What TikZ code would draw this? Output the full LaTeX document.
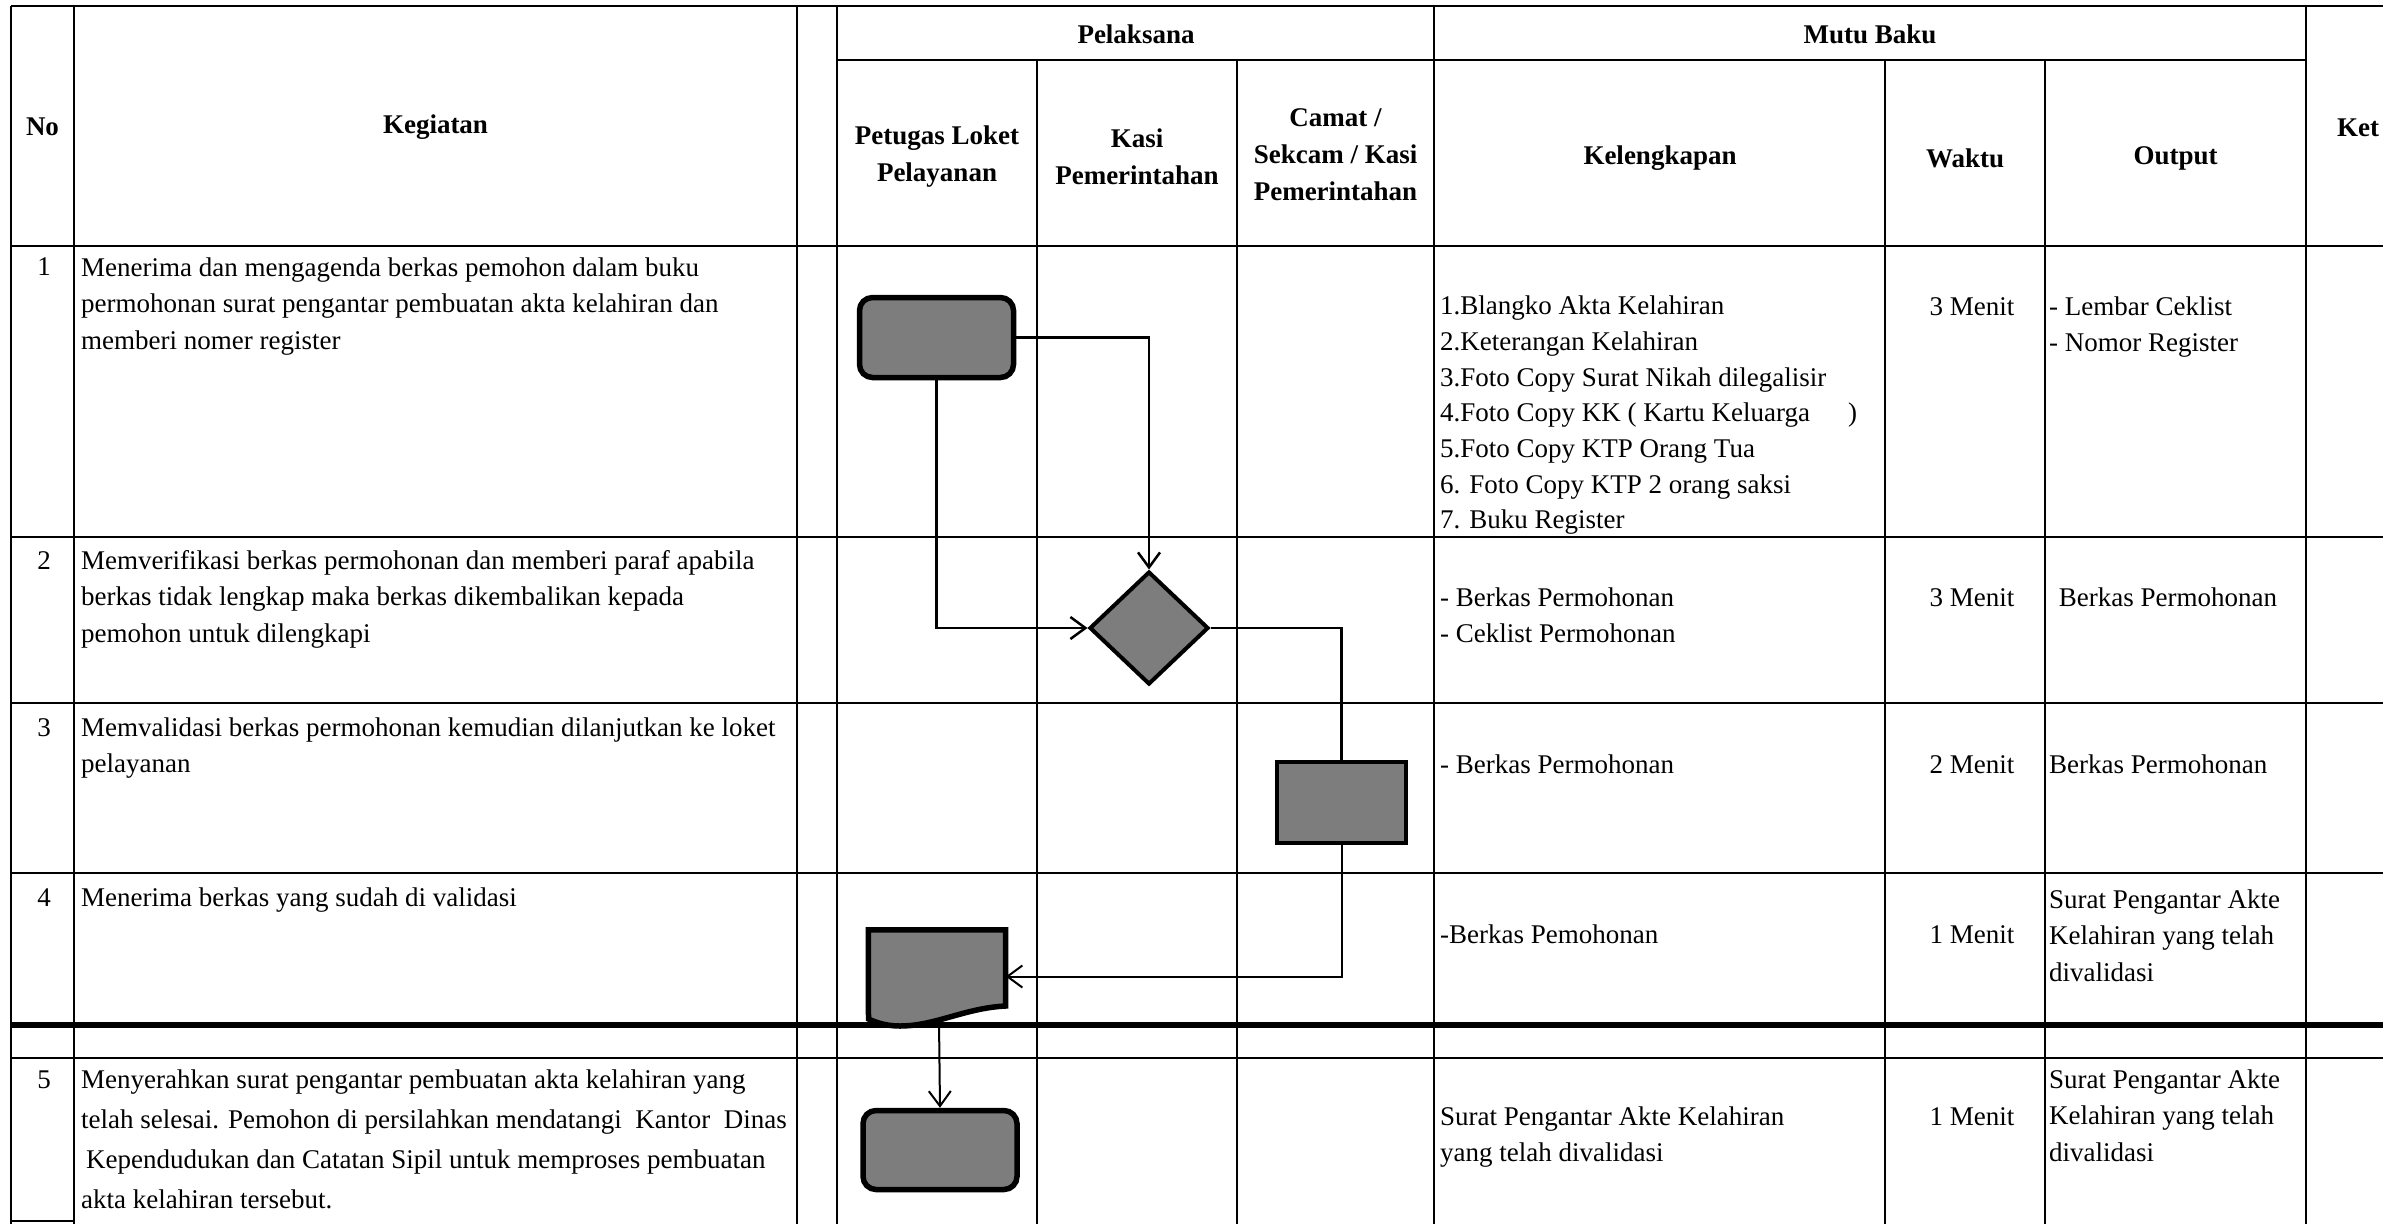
\documentclass[tikz,border=0pt]{standalone}
\usepackage{fontspec}
\setmainfont{Liberation Serif}
\usetikzlibrary{arrows.meta,shapes.geometric}
\definecolor{shapegray}{RGB}{125,125,125}
\newcommand{\bodyfnt}{\fontsize{27pt}{36.5pt}\selectfont}
\newcommand{\listfnt}{\fontsize{27pt}{35.7pt}\selectfont}
\newcommand{\headfnt}{\fontsize{27pt}{37pt}\selectfont\bfseries}
\begin{document}
\begin{tikzpicture}[x=1pt,y=-1pt,
  grid/.style={line width=2.6pt, black},
  thickgrid/.style={line width=6pt, black},
  txt/.style={anchor=north west, inner sep=0pt, align=left, font=\bodyfnt},
  ctxt/.style={anchor=north, inner sep=0pt, align=center, font=\bodyfnt},
  head/.style={anchor=center, inner sep=0pt, align=center, font=\headfnt},
  shp/.style={fill=shapegray, draw=black, inner sep=0pt},
  conn/.style={line width=2.5pt, black},
  arr/.style={-{Straight Barb[length=15pt,width=22pt]}}
]
\fill[white] (0,0) rectangle (2383,1224);
\useasboundingbox (0,0) rectangle (2383,1224);

% ---------- table grid ----------
% horizontal lines
\draw[grid] (11,6) -- (2383,6);
\draw[grid] (837,60) -- (2306,60);
\draw[grid] (11,246) -- (2383,246);
\draw[grid] (11,537) -- (2383,537);
\draw[grid] (11,703) -- (2383,703);
\draw[grid] (11,873) -- (2383,873);
\draw[thickgrid] (11,1025) -- (2383,1025);
\draw[grid] (11,1058) -- (2383,1058);
\draw[grid] (11,1221) -- (74,1221);
% vertical lines
\foreach \xx in {11,74,797,837,1434,2306}
  \draw[grid] (\xx,6) -- (\xx,1224);
\foreach \xx in {1037,1237,1885,2045}
  \draw[grid] (\xx,60) -- (\xx,1224);

% ---------- header ----------
\node[head] (hNo) at (42.5,127) {No};
\node[head] (hKeg) at (435.5,127) {Kegiatan};
\node[head] (hPel) at (1136,34) {Pelaksana};
\node[head] (hMutu) at (1870,34) {Mutu Baku};
\node[head] (hPet) at (937,157) {Petugas Loket\\Pelayanan};
\node[head] (hKasi) at (1137,157) {Kasi\\Pemerintahan};
\node[head] (hCamat) at (1335.5,155) {Camat /\\Sekcam / Kasi\\Pemerintahan};
\node[head] (hKel) at (1660,158) {Kelengkapan};
\node[head] (hWak) at (1965,158) {Waktu};
\node[head] (hOut) at (2175.5,158) {Output};
\node[head] (hKet) at (2358,128) {Ket};

% ---------- row 1 ----------
\node[ctxt] (n1) at (44,250) {\strut 1};
\node[txt] (k1) at (81,250.5) {\strut Menerima dan mengagenda berkas pemohon dalam buku\\
\strut permohonan surat pengantar pembuatan akta kelahiran dan\\
\strut memberi nomer register};
\node[txt, font=\listfnt] (l1) at (1440,289.5) {\strut 1.Blangko Akta Kelahiran\\
\strut 2.Keterangan Kelahiran\\
\strut 3.Foto Copy Surat Nikah dilegalisir\\
\strut 4.Foto Copy KK ( Kartu Keluarga\hspace{38pt})\\
\strut 5.Foto Copy KTP Orang Tua\\
\strut 6. Foto Copy KTP 2 orang saksi\\
\strut 7. Buku Register};
\node[ctxt] (w1) at (1972,289.5) {\strut 3 Menit};
\node[txt] (o1) at (2049,289.5) {\strut - Lembar Ceklist\\
\strut - Nomor Register};

% ---------- row 2 ----------
\node[ctxt] (n2) at (44,543.5) {\strut 2};
\node[txt] (k2) at (81,543.5) {\strut Memverifikasi berkas permohonan dan memberi paraf apabila\\
\strut berkas tidak lengkap maka berkas dikembalikan kepada\\
\strut pemohon untuk dilengkapi};
\node[txt] (l2) at (1440,580.5) {\strut - Berkas Permohonan\\
\strut - Ceklist Permohonan};
\node[ctxt] (w2) at (1972,580.5) {\strut 3 Menit};
\node[ctxt] (o2) at (2168,580.5) {\strut Berkas Permohonan};

% ---------- row 3 ----------
\node[ctxt] (n3) at (44,710.5) {\strut 3};
\node[txt] (k3) at (81,710.5) {\strut Memvalidasi berkas permohonan kemudian dilanjutkan ke loket\\
\strut pelayanan};
\node[txt] (l3) at (1440,747.5) {\strut - Berkas Permohonan};
\node[ctxt] (w3) at (1972,747.5) {\strut 2 Menit};
\node[txt] (o3) at (2049,747.5) {\strut Berkas Permohonan};

% ---------- row 4 ----------
\node[ctxt] (n4) at (44,880.5) {\strut 4};
\node[txt] (k4) at (81,880.5) {\strut Menerima berkas yang sudah di validasi};
\node[txt] (l4) at (1440,917.5) {\strut -Berkas Pemohonan};
\node[ctxt] (w4) at (1972,917.5) {\strut 1 Menit};
\node[txt] (o4) at (2049,882.5) {\strut Surat Pengantar Akte\\
\strut Kelahiran yang telah\\
\strut divalidasi};

% ---------- row 5 ----------
\node[ctxt] (n5) at (44,1062.5) {\strut 5};
\node[txt] (k5) at (81,1062.5) {\strut Menyerahkan surat pengantar pembuatan akta kelahiran yang\\[3.5pt]
\strut telah selesai. Pemohon di persilahkan mendatangi\ \ Kantor\ \ Dinas\\[3.5pt]
\strut \hspace{5pt}Kependudukan dan Catatan Sipil untuk memproses pembuatan\\[3.5pt]
\strut akta kelahiran tersebut.};
\node[txt] (l5) at (1440,1099.5) {\strut Surat Pengantar Akte Kelahiran\\
\strut yang telah divalidasi};
\node[ctxt] (w5) at (1972,1099.5) {\strut 1 Menit};
\node[txt] (o5) at (2049,1062.5) {\strut Surat Pengantar Akte\\
\strut Kelahiran yang telah\\
\strut divalidasi};

% ---------- flowchart shapes ----------
\node[shp, rounded corners=13pt, line width=5.5pt, minimum width=154pt, minimum height=80pt] (r1) at (936.5,337.5) {};
\node[shp, diamond, line width=4pt, minimum width=119pt, minimum height=113pt] (dia) at (1149,628) {};
\node[shp, rectangle, line width=4pt, minimum width=129pt, minimum height=81pt] (r3) at (1341.5,802.5) {};
\node[inner sep=0pt, minimum width=137pt, minimum height=93pt] (doc) at (937,976.5) {};
\draw[shp, line width=5.5pt, line join=miter]
  (doc.north west) -- (doc.north east) -- (1005.5,1006)
  .. controls (965,1008) and (935,1026) .. (900,1026)
  .. controls (885,1026) and (875,1022) .. (868.5,1019) -- cycle;
\coordinate (docb) at (939,1021);
\node[shp, rounded corners=13pt, line width=5.5pt, minimum width=154pt, minimum height=79pt] (r5) at (940,1150) {};

% ---------- connectors ----------
\draw[conn, arr] (r1.east) -| (dia.north);
\draw[conn, arr] (r1.south) |- (dia.west);
\draw[conn, line width=2.2pt] (dia.east) -| (r3.north);
\draw[conn, line width=2pt, arr] (r3.south) |- (doc.east);
\draw[conn, line width=2pt, arr] (docb) -- (r5.north);
\end{tikzpicture}
\end{document}
